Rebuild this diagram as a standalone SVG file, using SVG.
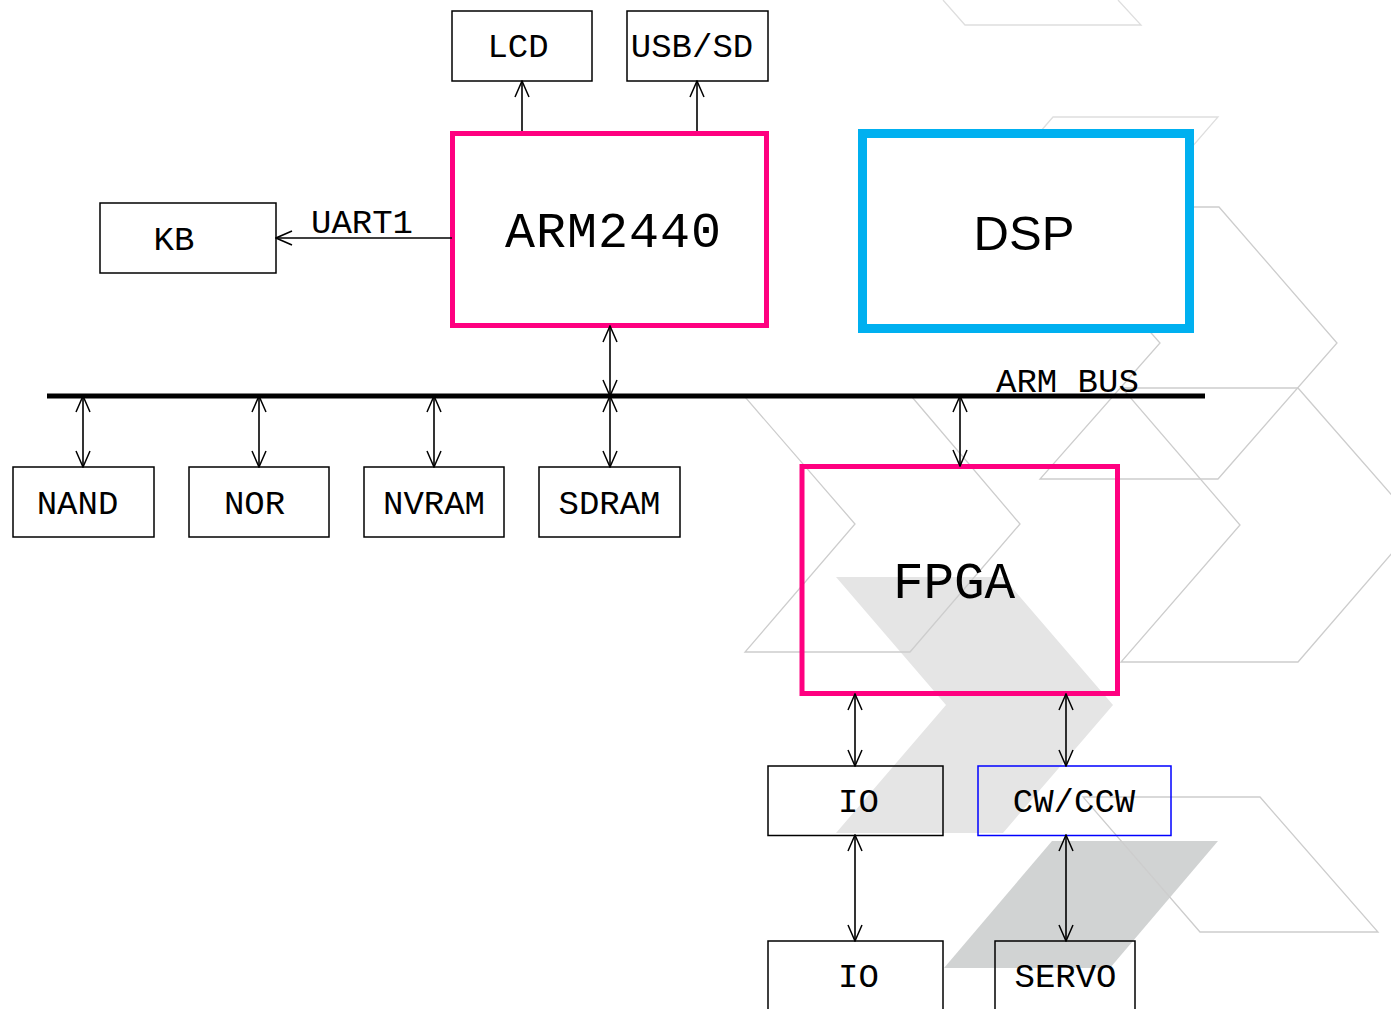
<svg xmlns="http://www.w3.org/2000/svg" width="1391" height="1009" viewBox="0 0 1391 1009">
<style>
.bgline{fill:none;stroke:#cdcdcd;stroke-width:1.3}
.bgfaint{fill:none;stroke:#dedede;stroke-width:1.3}
.box{fill:none;stroke:#000;stroke-width:1.5}
.pink{fill:none;stroke:#ff0080;stroke-width:5}
.mono{font-family:"Courier New","Nimbus Mono PS","FreeMono","Liberation Mono",monospace;font-size:34px;fill:#000;text-anchor:middle}
.big{font-size:50px}
.sans{font-family:"Liberation Sans",Arial,sans-serif;font-size:49px;fill:#000;text-anchor:middle}
.conn{fill:none;stroke:#000;stroke-width:1.6}
</style>
<defs>
<marker id="ah" viewBox="0 0 18 16" refX="17" refY="8" markerWidth="18" markerHeight="16" markerUnits="userSpaceOnUse" orient="auto-start-reverse">
<path d="M1,1 L17,8 L1,15" fill="none" stroke="#000" stroke-width="1.5"/>
</marker>
</defs>
<rect width="1391" height="1009" fill="#fff"/>
<g id="background">
<polygon points="836,577 1003,577 1113,705 1003,833 836,833 946,705" fill="#e5e5e5"/>
<polygon points="1052,841 1218,841 1110,968 944,968" fill="#d1d3d3"/>
<path class="bgfaint" d="M943,0 L965,25 L1141,25 L1118,0"/>
<polygon class="bgfaint" points="1053,117 1218,117 1100,253 935,253"/>
<polygon class="bgline" points="1040,207 1219,207 1337,343 1218,479 1040,479 1160,343"/>
<polygon class="bgline" points="1122,388 1298,388 1417,524 1298,662 1121,662 1240,525"/>
<polygon class="bgline" points="745,397 912,397 1020,524 910,652 745,652 855,524"/>
<polygon class="bgline" points="1083,797 1260,797 1378,932 1200,932"/>
</g>
<g id="lcd"><rect class="box" x="452" y="11" width="140" height="70"/><text class="mono" x="518" y="57">LCD</text></g>
<g id="usbsd"><rect class="box" x="627" y="11" width="141" height="70"/><text class="mono" x="692" y="57">USB/SD</text></g>
<g id="kb"><rect class="box" x="100" y="203" width="176" height="70"/><text class="mono" x="174" y="250">KB</text></g>
<g id="arm2440"><rect class="pink" x="452.5" y="133.5" width="314" height="192" fill="#fff" style="fill:#fff"/><text class="mono big" x="613" y="247" textLength="216" lengthAdjust="spacing">ARM2440</text></g>
<g id="dsp"><rect x="862.5" y="133.5" width="327" height="195" fill="#fff" stroke="#00b0f0" stroke-width="9"/><text class="sans" x="1024" y="250">DSP</text></g>
<g id="arm-bus"><line x1="47" y1="396" x2="1205" y2="396" stroke="#000" stroke-width="5"/><text class="mono" x="996" y="392" style="text-anchor:start">ARM BUS</text></g>
<g id="nand"><rect class="box" x="13" y="467" width="141" height="70"/><text class="mono" x="77.5" y="514">NAND</text></g>
<g id="nor"><rect class="box" x="189" y="467" width="140" height="70"/><text class="mono" x="254.5" y="514">NOR</text></g>
<g id="nvram"><rect class="box" x="364" y="467" width="140" height="70"/><text class="mono" x="434" y="514">NVRAM</text></g>
<g id="sdram"><rect class="box" x="539" y="467" width="141" height="70"/><text class="mono" x="609.5" y="514">SDRAM</text></g>
<g id="fpga"><rect class="pink" x="802" y="466.5" width="315.5" height="227"/><text class="mono big" x="954" y="598" style="font-size:51px" textLength="122" lengthAdjust="spacing">FPGA</text></g>
<g id="io1"><rect class="box" x="768" y="766" width="175" height="69.5"/><text class="mono" x="858.5" y="812">IO</text></g>
<g id="cwccw"><rect x="978" y="766" width="193" height="69.5" fill="none" stroke="#0000ff" stroke-width="1.5"/><text class="mono" x="1074" y="812">CW/CCW</text></g>
<g id="io2"><rect class="box" x="768" y="941" width="175" height="80"/><text class="mono" x="858.5" y="987">IO</text></g>
<g id="servo"><rect class="box" x="995" y="941" width="140" height="80"/><text class="mono" x="1065.5" y="987">SERVO</text></g>
<g id="connectors">
<path class="conn" d="M522,131 V81" marker-end="url(#ah)"/>
<path class="conn" d="M697,131 V81" marker-end="url(#ah)"/>
<path class="conn" d="M452,238 H276" marker-end="url(#ah)"/>
<text class="mono" x="311" y="233" style="text-anchor:start">UART1</text>
<path class="conn" d="M610,326 V396" marker-start="url(#ah)" marker-end="url(#ah)"/>
<path class="conn" d="M83,396 V467" marker-start="url(#ah)" marker-end="url(#ah)"/>
<path class="conn" d="M259,396 V467" marker-start="url(#ah)" marker-end="url(#ah)"/>
<path class="conn" d="M434,396 V467" marker-start="url(#ah)" marker-end="url(#ah)"/>
<path class="conn" d="M610,396 V467" marker-start="url(#ah)" marker-end="url(#ah)"/>
<path class="conn" d="M960,396 V466" marker-start="url(#ah)" marker-end="url(#ah)"/>
<path class="conn" d="M855,694 V766" marker-start="url(#ah)" marker-end="url(#ah)"/>
<path class="conn" d="M1066,694 V766" marker-start="url(#ah)" marker-end="url(#ah)"/>
<path class="conn" d="M855,835 V941" marker-start="url(#ah)" marker-end="url(#ah)"/>
<path class="conn" d="M1066,835 V941" marker-start="url(#ah)" marker-end="url(#ah)"/>
</g>
</svg>
